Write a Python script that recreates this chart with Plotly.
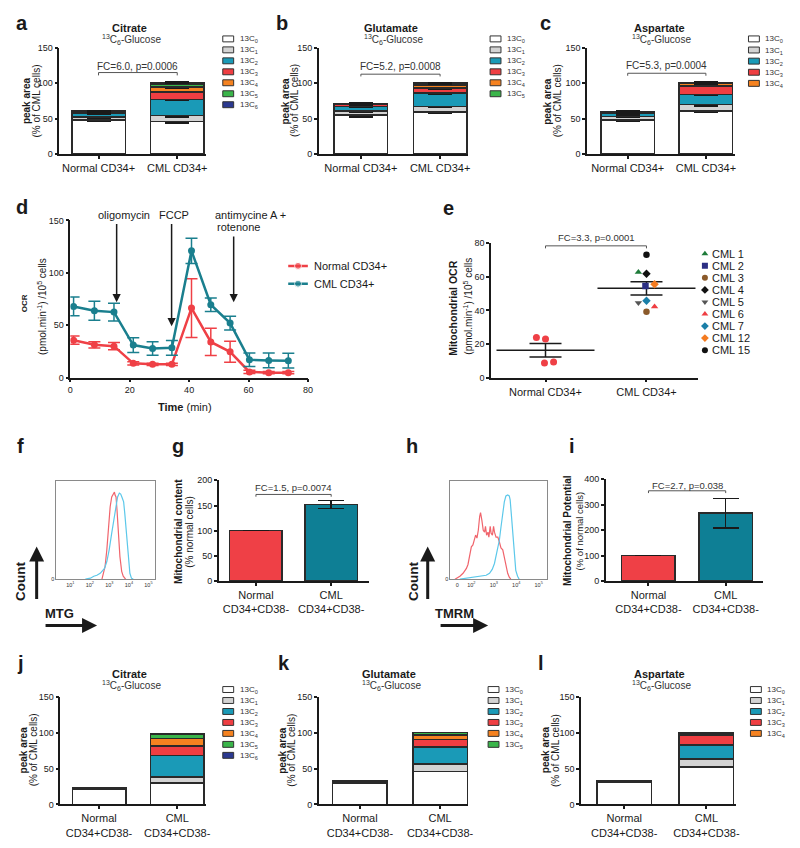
import plotly.graph_objects as go

W, H = 800, 848
FONT = "Liberation Sans, Arial, Helvetica, sans-serif"
INK = "#1a1a1a"
RED = "#EF4046"
TEAL = "#0E7F95"

# ===================== DATA =====================
cd34_groups = ["Normal CD34+", "CML CD34+"]
cd38_groups = ["Normal<br>CD34+CD38-", "CML<br>CD34+CD38-"]

iso_names = ["13C<sub>0</sub>", "13C<sub>1</sub>", "13C<sub>2</sub>", "13C<sub>3</sub>",
             "13C<sub>4</sub>", "13C<sub>5</sub>", "13C<sub>6</sub>"]
iso_colors = ["#FFFFFF", "#D3D3D3", "#1A9AB7", "#EF3E42", "#F58220", "#3AB54A", "#2B3990"]

# a: Citrate, CD34+
citrate_cd34_normal = [48.0, 4.0, 5.0, 2.0, 0.8, 0.5, 0.3]
citrate_cd34_cml = [45.5, 8.5, 23.0, 10.5, 7.0, 4.5, 1.5]
citrate_cd34_normal_err = [2.0, 1.5, 1.5, 1.0, 0.5, 0.5, 0.3]
citrate_cd34_cml_err = [1.5, 1.5, 1.5, 1.0, 1.0, 0.8, 0.8]
# b: Glutamate, CD34+
glutamate_cd34_normal = [55.0, 6.0, 6.0, 2.5, 1.5, 0.5]
glutamate_cd34_cml = [59.0, 8.0, 19.0, 7.0, 4.5, 2.5]
glutamate_cd34_normal_err = [3.0, 2.0, 1.5, 1.0, 1.0, 0.5]
glutamate_cd34_cml_err = [2.0, 1.5, 1.0, 1.0, 1.0, 1.0]
# c: Aspartate, CD34+
aspartate_cd34_normal = [48.0, 5.0, 4.0, 2.0, 1.0]
aspartate_cd34_cml = [61.0, 8.5, 14.5, 12.0, 4.0]
aspartate_cd34_normal_err = [2.0, 1.5, 2.0, 1.5, 1.0]
aspartate_cd34_cml_err = [2.0, 1.5, 1.0, 1.0, 1.5]
# j, k, l: CD34+CD38-
citrate_cd38_normal = [20.5, 1.0, 1.0, 0.4, 0.3, 0.2, 0.1]
citrate_cd38_cml = [30.0, 8.0, 30.5, 13.0, 10.5, 6.0, 1.0]
glutamate_cd38_normal = [29.5, 1.5, 1.0, 0.5, 0.5, 0.3]
glutamate_cd38_cml = [46.0, 10.0, 24.0, 10.5, 6.5, 3.0]
aspartate_cd38_normal = [31.0, 0.8, 0.5, 0.3, 0.2]
aspartate_cd38_cml = [52.0, 11.5, 19.5, 13.5, 3.0]

# d: Seahorse OCR time course
ocr_time = [1.1, 8.1, 14.7, 21.2, 27.7, 34.2, 40.8, 47.3, 53.8, 60.3, 66.8, 73.4]
ocr_normal = [35.7, 31.3, 30.0, 13.6, 12.6, 12.6, 66.3, 34.0, 24.6, 5.4, 4.7, 4.7]
ocr_normal_err = [4.0, 3.0, 3.5, 1.5, 1.0, 1.0, 28.0, 13.0, 10.0, 1.5, 1.0, 1.0]
ocr_cml = [67.9, 63.8, 62.5, 31.0, 27.8, 28.4, 121.0, 69.5, 52.0, 17.0, 16.4, 16.1]
ocr_cml_err = [9.0, 9.0, 8.5, 7.0, 6.5, 7.0, 12.0, 6.5, 6.5, 6.5, 7.0, 7.0]
ocr_series = ["Normal CD34+", "CML CD34+"]
injections = ["oligomycin", "FCCP", "antimycine A +<br>rotenone"]
injection_time = [15.6, 34.1, 55.0]

# e: mitochondrial OCR per sample
mito_normal = [23.9, 23.0, 8.7, 9.3]
mito_normal_jitter = [-0.09, 0.0, -0.01, 0.08]
cml_patients = ["CML 1", "CML 2", "CML 3", "CML 4", "CML 5", "CML 6", "CML 7", "CML 12", "CML 15"]
mito_cml = [62.7, 54.5, 39.2, 61.8, 44.5, 42.2, 45.7, 55.5, 73.1]
mito_cml_jitter = [-0.08, -0.01, 0.0, 0.0, -0.08, 0.08, 0.0, 0.08, 0.0]
cml_symbols = ["triangle-up", "square", "circle", "diamond", "triangle-down",
               "triangle-up", "diamond", "diamond", "circle"]
cml_colors = ["#1E7B3A", "#2B2E83", "#8B5A2B", "#111111", "#555555",
              "#EF3E42", "#1A7FA8", "#F47B20", "#111111"]
mito_mean = [16.3, 53.1]
mito_sem = [4.0, 4.0]

# f: MTG histogram (log10 fluorescence, % of max)
mtg_normal_x = [2.62, 2.70, 2.78, 2.87, 2.95, 3.04, 3.12, 3.21, 3.26, 3.29, 3.34, 3.39,
                3.46, 3.54, 3.63, 3.71, 3.83]
mtg_normal_y = [0, 6, 13, 30, 54, 74, 84, 88, 89, 86, 84, 71, 47, 23, 8, 3, 0]
mtg_cml_x = [1.77, 2.03, 2.20, 2.36, 2.53, 2.62, 2.75, 2.87, 2.99, 3.12, 3.26, 3.34,
             3.42, 3.51, 3.58, 3.66, 3.73, 3.79, 3.88, 3.96, 4.05, 4.13, 4.22]
mtg_cml_y = [0, 1, 3, 4, 6, 8, 11, 18, 30, 47, 64, 76, 84, 88, 87, 83, 79, 67, 47, 23, 6, 1, 0]
mtg_ticks = ["10<sup>1</sup>", "10<sup>2</sup>", "10<sup>3</sup>", "10<sup>4</sup>", "10<sup>5</sup>"]

# h: TMRM histogram
tmrm_normal_x = [1.27, 1.49, 1.63, 1.78, 1.85, 1.93, 2.00, 2.07, 2.15, 2.19, 2.25, 2.31,
                 2.37, 2.41, 2.47, 2.53, 2.59, 2.63, 2.68, 2.74, 2.78, 2.84, 2.88, 2.94,
                 2.99, 3.03, 3.10, 3.18, 3.25, 3.32, 3.40, 3.47, 3.54, 3.62, 3.69, 3.76]
tmrm_normal_y = [0, 3, 6, 11, 15, 23, 33, 35, 43, 45, 42, 50, 64, 68, 60, 50, 48, 54,
                 45, 48, 43, 54, 47, 45, 54, 48, 43, 43, 38, 32, 30, 23, 13, 6, 2, 0]
tmrm_cml_x = [1.49, 1.78, 2.00, 2.22, 2.44, 2.66, 2.81, 2.93, 3.03, 3.10, 3.18, 3.25,
              3.32, 3.40, 3.47, 3.54, 3.62, 3.69, 3.73, 3.78, 3.84, 3.91, 3.98, 4.06, 4.13]
tmrm_cml_y = [0, 1, 2, 2, 3, 4, 6, 10, 16, 23, 30, 40, 53, 67, 79, 85, 86, 85, 81, 67,
              47, 26, 9, 3, 0]
tmrm_ticks = ["0", "10<sup>2</sup>", "10<sup>3</sup>", "10<sup>4</sup>", "10<sup>5</sup>"]

# g, i
mito_content = [100, 152]
mito_content_err = [0, 8]
mito_potential = [100, 267]
mito_potential_err = [0, 58]

# ===================== HELPERS =====================
traces = []
shapes = []
annotations = []
layout = {}


def xdom(a, b):
    return [a / W, b / W]


def ydom(top, bottom):
    return [1 - bottom / H, 1 - top / H]


def ax_names(n):
    return ("x" if n == 1 else f"x{n}", "y" if n == 1 else f"y{n}",
            "xaxis" if n == 1 else f"xaxis{n}", "yaxis" if n == 1 else f"yaxis{n}")


def base_axis(size=9):
    return dict(showline=True, linecolor=INK, linewidth=1.5, ticks="outside", ticklen=3,
                tickwidth=1.5, tickcolor=INK, showgrid=False, zeroline=False,
                tickfont=dict(family=FONT, size=size, color=INK))


def ann(text, px, py, size=10, bold=False, xanchor="center", yanchor="middle", angle=0,
        color=INK):
    annotations.append(dict(text=f"<b>{text}</b>" if bold else text, x=px / W, y=1 - py / H,
                            xref="paper", yref="paper", showarrow=False, xanchor=xanchor,
                            yanchor=yanchor, textangle=angle,
                            font=dict(family=FONT, size=size, color=color)))


def bracket(n, x0, x1, ytop, ylow, text, ytext, size=10):
    xr, yr, _, _ = ax_names(n)
    shapes.append(dict(type="path", xref=xr, yref=yr,
                       path=f"M {x0},{ylow} L {x0},{ytop} L {x1},{ytop} L {x1},{ylow}",
                       line=dict(color="#555555", width=1)))
    annotations.append(dict(text=text, x=(x0 + x1) / 2, y=ytext, xref=xr, yref=yr,
                            showarrow=False, font=dict(family=FONT, size=size, color="#333")))


def cat_axes(n, cats, left, c0, c1, right, top, bottom, ymax, dtick, catsize=11):
    xr, yr, xk, yk = ax_names(n)
    ppu = c1 - c0
    xa = base_axis(catsize)
    xa.update(domain=xdom(left, right), range=[(left - c0) / ppu, 1 + (right - c1) / ppu],
              tickvals=[0, 1], ticktext=cats, anchor=yr)
    ya = base_axis(9)
    ya.update(domain=ydom(top, bottom), range=[0, ymax], dtick=dtick, anchor=xr)
    layout[xk] = xa
    layout[yk] = ya
    return ppu


def stacked_panel(n, normal, cml, nerr, cerr, cats, left, c0, c1, right, top, bottom, bw):
    xr, yr, _, _ = ax_names(n)
    ppu = cat_axes(n, cats, left, c0, c1, right, top, bottom, 150, 50)
    for k in range(len(normal)):
        tr = go.Bar(x=[0, 1], y=[normal[k], cml[k]], width=bw / ppu, xaxis=xr, yaxis=yr,
                    marker=dict(color=iso_colors[k], line=dict(color="#2a2a2a", width=1.5)),
                    showlegend=False)
        if nerr is not None:
            tr.error_y = dict(type="data", array=[nerr[k], cerr[k]], color=INK,
                              thickness=1.5, width=12)
        traces.append(tr)


def iso_legend(n_items, lx, ly, spacing=11.1):
    for i in range(n_items):
        cy = ly + i * spacing
        shapes.append(dict(type="rect", xref="paper", yref="paper", x0=lx / W,
                           x1=(lx + 11) / W, y0=1 - (cy + 3) / H, y1=1 - (cy - 3) / H,
                           fillcolor=iso_colors[i], line=dict(color="#333", width=1)))
        ann(iso_names[i], lx + 15, cy + 0.5, size=8, xanchor="left", color="#333")


def ytitle(bold_text, plain_text, x1, x2, yc, size=10, size2=None):
    ann(bold_text, x1, yc, size=size, bold=True, angle=-90)
    ann(plain_text, x2, yc, size=size2 or size, angle=-90)


# ===================== PANELS a, b, c =====================
stacked_panel(1, citrate_cd34_normal, citrate_cd34_cml, citrate_cd34_normal_err,
              citrate_cd34_cml_err, cd34_groups, 57, 96.5, 176, 205, 43.3, 150.7, 54)
stacked_panel(2, glutamate_cd34_normal, glutamate_cd34_cml, glutamate_cd34_normal_err,
              glutamate_cd34_cml_err, cd34_groups, 319, 361.5, 441.5, 470, 43.3, 150.7, 54)
stacked_panel(3, aspartate_cd34_normal, aspartate_cd34_cml, aspartate_cd34_normal_err,
              aspartate_cd34_cml_err, cd34_groups, 590, 631, 710, 739, 43.3, 150.7, 54)
bracket(1, 0, 1, 115, 111, "FC=6.0, p=0.0006", 124)
bracket(2, 0, 1, 112.7, 109.5, "FC=5.2, p=0.0008", 124)
bracket(3, 0, 1, 114, 110.5, "FC=5.3, p=0.0004", 125)
iso_legend(len(citrate_cd34_normal), 222, 34.3)
iso_legend(len(glutamate_cd34_normal), 492, 34.3)
iso_legend(len(aspartate_cd34_normal), 753, 34.3, 11.25)

# ===================== PANELS j, k, l =====================
stacked_panel(10, citrate_cd38_normal, citrate_cd38_cml, None, None, cd38_groups,
              58, 97, 176, 205, 700, 809, 54)
stacked_panel(11, glutamate_cd38_normal, glutamate_cd38_cml, None, None, cd38_groups,
              319, 360.5, 441.5, 470, 700, 809, 55)
stacked_panel(12, aspartate_cd38_normal, aspartate_cd38_cml, None, None, cd38_groups,
              584, 627.5, 710.5, 740, 700, 809, 55)
iso_legend(len(citrate_cd38_normal), 222, 692.7)
iso_legend(len(glutamate_cd38_normal), 490, 692.7)
iso_legend(len(aspartate_cd38_normal), 755, 692.7)

for (tx, ty, name) in [(128, 23, "Citrate"), (392, 23, "Glutamate"), (663, 23, "Aspartate"),
                       (128, 677, "Citrate"), (390, 677, "Glutamate"), (663, 677, "Aspartate")]:
    ann(name, tx, ty, size=11, bold=True)
    ann("<sup>13</sup>C<sub>6</sub>-Glucose", tx + 2, ty + 12, size=10, color="#333")

for (x1, x2, yc) in [(24.5, 34, 97), (285.5, 295, 97), (550.5, 560, 97),
                     (20.5, 30.5, 754), (281.5, 291.5, 754), (547.5, 557.5, 754)]:
    ytitle("peak area", "(% of CML cells)", x1, x2, yc)

# ===================== PANEL d =====================
layout["xaxis4"] = base_axis(9)
layout["xaxis4"].update(domain=xdom(68, 308), range=[0, 80], dtick=20, anchor="y4")
layout["yaxis4"] = base_axis(9)
layout["yaxis4"].update(domain=ydom(218, 377), range=[0, 150], dtick=50, anchor="x4")
for vals, errs, col in [(ocr_normal, ocr_normal_err, RED), (ocr_cml, ocr_cml_err, "#1A7F8E")]:
    traces.append(go.Scatter(x=ocr_time, y=vals, xaxis="x4", yaxis="y4", mode="lines+markers",
                             line=dict(color=col, width=2.5), marker=dict(color=col, size=7),
                             error_y=dict(type="data", array=errs, color=col, thickness=1.5,
                                          width=6), showlegend=False))
arrow_tail = [148, 148, 136]
arrow_head = [72, 49, 72]
for i, name in enumerate(injections):
    annotations.append(dict(x=injection_time[i], y=arrow_head[i], ax=injection_time[i],
                            ay=arrow_tail[i], xref="x4", yref="y4", axref="x4", ayref="y4",
                            text="", showarrow=True, arrowhead=2, arrowsize=1.1,
                            arrowwidth=1.5, arrowcolor=INK))
ann("oligomycin", 122, 213, size=11)
ann("FCCP", 173, 213, size=11)
ann("antimycine A +", 250, 213, size=11)
ann("rotenone", 238, 225, size=11)
ann("<b>Time</b> (min)", 184, 407, size=11)
ann("OCR", 22, 302, size=8, bold=True, angle=-90)
ann("(pmol.min<sup>-1</sup>) /10<sup>5</sup> cells", 40, 305, size=10, angle=-90)
# legend d (hidden axis)
layout["xaxis14"] = dict(domain=xdom(288, 308), range=[0, 1], visible=False, anchor="y14")
layout["yaxis14"] = dict(domain=ydom(255, 291), range=[1.5, -0.5], visible=False, anchor="x14")
for i, (name, col) in enumerate([(ocr_series[0], RED), (ocr_series[1], "#1A7F8E")]):
    traces.append(go.Scatter(x=[0, 0.5, 1], y=[i, i, i], xaxis="x14", yaxis="y14",
                             mode="lines+markers", line=dict(color=col, width=2.5),
                             marker=dict(color=col, size=[0, 7, 0]), showlegend=False))
    ann(name, 312, 264 + 18 * i, size=11, xanchor="left")

# ===================== PANEL e =====================
layout["xaxis5"] = base_axis(11)
layout["xaxis5"].update(domain=xdom(493, 702), range=[0.461, 2.51], tickvals=[1, 2],
                        ticktext=cd34_groups, anchor="y5")
layout["yaxis5"] = base_axis(9)
layout["yaxis5"].update(domain=ydom(241, 377), range=[0, 80], dtick=20, anchor="x5")
traces.append(go.Scatter(x=[1, 2], y=mito_mean, xaxis="x5", yaxis="y5", mode="markers",
                         marker=dict(symbol="line-ew", size=70, line=dict(color=INK, width=1.5)),
                         error_y=dict(type="data", array=mito_sem, color=INK, thickness=1.5,
                                      width=16), showlegend=False))
traces.append(go.Scatter(x=[1 + j for j in mito_normal_jitter], y=mito_normal, xaxis="x5",
                         yaxis="y5", mode="markers", marker=dict(color=RED, size=7),
                         showlegend=False))
traces.append(go.Scatter(x=[2 + j for j in mito_cml_jitter], y=mito_cml, xaxis="x5",
                         yaxis="y5", mode="markers",
                         marker=dict(color=cml_colors, symbol=cml_symbols, size=6.5),
                         showlegend=False))
shapes.append(dict(type="path", xref="x5", yref="y5",
                   path="M 1,76.9 L 1,78.4 L 2,78.4 L 2,76.9",
                   line=dict(color="#555555", width=1)))
ann("FC=3.3, p=0.0001", 599, 235, size=9.5, color="#333")
ann("Mitochondrial OCR", 455, 307, size=10.5, bold=True, angle=-90)
ann("(pmol.min<sup>-1</sup>) /10<sup>5</sup> cells", 470, 305, size=10, angle=-90)
layout["xaxis13"] = dict(domain=xdom(704, 714), range=[0, 1], visible=False, anchor="y13")
layout["yaxis13"] = dict(domain=ydom(245.6, 355.4), range=[8.5, -0.5], visible=False,
                         anchor="x13")
traces.append(go.Scatter(x=[0.5] * len(cml_patients), y=list(range(len(cml_patients))),
                         xaxis="x13", yaxis="y13", mode="markers",
                         marker=dict(color=cml_colors, symbol=cml_symbols, size=6),
                         showlegend=False))
for i, name in enumerate(cml_patients):
    ann(name, 714, 251.7 + 12.2 * i, size=11, xanchor="left")

# ===================== PANELS f, h (flow histograms) =====================
def flow_axes(n, left, right, top, bottom, xr_, tickvals, ticktext):
    xk, yk = f"xaxis{n}", f"yaxis{n}"
    layout[xk] = dict(domain=xdom(left, right), range=xr_, showline=True, mirror=True,
                      linecolor="#8a8a8a", linewidth=1, showgrid=False, zeroline=False,
                      ticks="", tickvals=tickvals, ticktext=ticktext, anchor=f"y{n}",
                      tickfont=dict(family=FONT, size=5.5, color="#333"))
    layout[yk] = dict(domain=ydom(top, bottom), range=[0, 100], showline=True, mirror=True,
                      linecolor="#8a8a8a", linewidth=1, showgrid=False, zeroline=False,
                      ticks="", tickvals=[0], ticktext=["0"], anchor=f"x{n}",
                      tickfont=dict(family=FONT, size=5.5, color="#333"))


flow_axes(6, 54, 154, 482, 581, [0.29, 5.36], [1, 2, 3, 4, 5], mtg_ticks)
flow_axes(8, 452, 549, 482, 581, [1.07, 5.35], [1.37, 2, 3, 4, 5], tmrm_ticks)
for n, xs, ys, col in [(6, mtg_normal_x, mtg_normal_y, "#F0646C"), (6, mtg_cml_x, mtg_cml_y, "#5CC8EA"),
                       (8, tmrm_normal_x, tmrm_normal_y, "#F0646C"), (8, tmrm_cml_x, tmrm_cml_y, "#5CC8EA")]:
    traces.append(go.Scatter(x=xs, y=ys, xaxis=f"x{n}", yaxis=f"y{n}", mode="lines",
                             line=dict(color=col, width=1.2), showlegend=False))

for (cx, ax_x, lab, lab_x, harrow_end) in [(17, 34, "MTG", 57, 95), (414, 429, "TMRM", 456, 490)]:
    ann("Count", cx, 583, size=13.5, bold=True, angle=-90)
    annotations.append(dict(x=ax_x / W, y=1 - 548 / H, xref="paper", yref="paper",
                            ax=0, ay=54, text="", showarrow=True, arrowhead=2, arrowsize=1,
                            arrowwidth=3, arrowcolor=INK))
    ann(lab, lab_x, 616, size=13, bold=True)
    annotations.append(dict(x=harrow_end / W, y=1 - 628 / H, xref="paper", yref="paper",
                            ax=-(harrow_end - (lab_x - 15)), ay=0, text="", showarrow=True,
                            arrowhead=2, arrowsize=1, arrowwidth=3, arrowcolor=INK))

# ===================== PANELS g, i =====================
for n, vals, errs, left, c0, c1, right, top, bottom, ymax, dtick, bw in [
        (7, mito_content, mito_content_err, 218, 255.5, 331.5, 370, 481, 583, 200, 50, 53),
        (9, mito_potential, mito_potential_err, 609, 652, 730, 768, 480, 583, 400, 100, 54)]:
    ppu = cat_axes(n, cd38_groups, left, c0, c1, right, top, bottom, ymax, dtick)
    traces.append(go.Bar(x=[0, 1], y=vals, width=bw / ppu, xaxis=f"x{n}", yaxis=f"y{n}",
                         marker=dict(color=[RED, TEAL], line=dict(color="#2a2a2a", width=1.5)),
                         error_y=dict(type="data", array=errs, color=INK, thickness=1.5,
                                      width=13, visible=True), showlegend=False))
bracket(7, 0, 1, 172, 167.5, "FC=1.5, p=0.0074", 185, size=9.5)
bracket(9, 0, 1, 355, 346, "FC=2.7, p=0.038", 377, size=9.5)
ann("Mitochondrial content", 177, 533, size=10, bold=True, angle=-90)
ann("(% normal cells)", 189, 533, size=10, angle=-90)
ann("Mitochondrial Potential", 570, 532, size=10, bold=True, angle=-90)
ann("(% of normal cells)", 582.5, 532, size=9.5, angle=-90)

# ===================== PANEL LETTERS =====================
for letter, lx, base in [("a", 11, 25), ("b", 274, 25), ("c", 540, 25), ("d", 11, 211),
                         ("e", 442, 212), ("f", 12, 453), ("g", 169, 453), ("h", 405, 453),
                         ("i", 570, 453), ("j", 12, 673), ("k", 276, 673), ("l", 538, 673)]:
    ann(letter, lx, base - 7, size=20, bold=True, xanchor="left")

fig = go.Figure(data=traces)
fig.update_layout(**layout)
fig.update_layout(width=W, height=H, autosize=False, margin=dict(l=0, r=0, t=0, b=0),
                  paper_bgcolor="white", plot_bgcolor="white", barmode="stack",
                  showlegend=False, shapes=shapes, annotations=annotations,
                  font=dict(family=FONT, color=INK))
fig.write_html("out.html", config={"displayModeBar": False},
               post_script="document.body.style.margin='0';")
